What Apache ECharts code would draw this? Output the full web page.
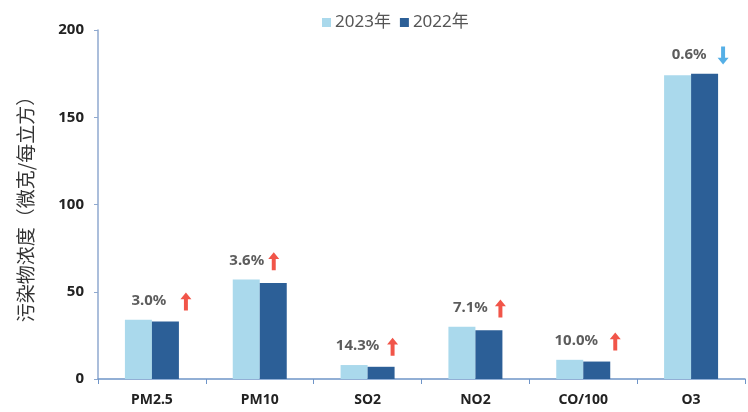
<!DOCTYPE html>
<html>
<head>
<meta charset="utf-8">
<script src="https://cdn.jsdelivr.net/npm/echarts@6/dist/echarts.min.js"></script>
<style>
  html, body {margin: 0; padding: 0; background: #fff;}
  #chart {width: 748px; height: 412px;}
</style>
</head>
<body>
<div id="chart"></div>
<script>
const categories = ['PM2.5', 'PM10', 'SO2', 'NO2', 'CO/100', 'O3']
const values2023 = [34, 57, 8, 30, 11, 174]
const values2022 = [33, 55, 7, 28, 10, 175]
const changeText = ['3.0%', '3.6%', '14.3%', '7.1%', '10.0%', '0.6%']
const changeUp = [true, true, true, true, true, false]
const yTicks = [0, 50, 100, 150, 200]

// where the percent text / arrow sit relative to the category centre (px)
const textShift = [-3, -13, -10, -5, -7, -2]
const arrowShift = [34, 14, 25, 25, 32, 32]
const labelLift = 11

const arrowUp = 'path://M5,0 L10,6 L6.8,6 L6.8,16 L3.2,16 L3.2,6 L0,6 Z'
const arrowDown = 'path://M3.2,0 L6.8,0 L6.8,10 L10,10 L5,16 L0,10 L3.2,10 Z'

const labelY = categories.map((c, i) => Math.max(values2023[i], values2022[i]) + labelLift)

const chart = echarts.init(document.getElementById('chart'))
chart.setOption({
    animation: false,
    textStyle: {fontFamily: '"Noto Sans", "Noto Sans CJK SC", sans-serif'},
    legend: {
        top: 9,
        left: 317,
        itemWidth: 9,
        itemHeight: 9,
        itemGap: 9,
        icon: 'rect',
        data: ['2023年', '2022年'],
        textStyle: {color: '#555', fontSize: 17, padding: [0, 0, 0, -1]}
    },
    grid: {left: 98, right: 3, top: 30, bottom: 33},
    xAxis: {
        type: 'category',
        data: categories,
        axisLine: {lineStyle: {color: '#6f95c8', width: 1.5}},
        axisTick: {show: true, length: 5, lineStyle: {color: '#6f95c8'}},
        axisLabel: {color: '#222', fontSize: 14, fontWeight: 'bold', margin: 14}
    },
    yAxis: {
        type: 'value',
        min: yTicks[0],
        max: yTicks[yTicks.length - 1],
        interval: 50,
        name: '污染物浓度（微克/每立方）',
        nameLocation: 'middle',
        nameGap: 63,
        nameRotate: 90,
        nameTextStyle: {color: '#333', fontSize: 19, fontFamily: '"Noto Sans CJK SC", sans-serif'},
        splitLine: {show: false},
        axisLine: {show: true, lineStyle: {color: '#8fa9cf', width: 1.5}},
        axisTick: {show: true, length: 4, lineStyle: {color: '#8fa9cf'}},
        axisLabel: {color: '#222', fontSize: 15, fontWeight: 'bold', margin: 14}
    },
    series: [
        {
            name: '2023年',
            type: 'bar',
            data: values2023,
            barGap: '0%',
            barWidth: 27,
            itemStyle: {color: '#aad9ec'}
        },
        {
            name: '2022年',
            type: 'bar',
            data: values2022,
            barWidth: 27,
            itemStyle: {color: '#2c5f97'}
        },
        {
            type: 'scatter',
            symbolSize: 0,
            silent: true,
            data: categories.map((c, i) => ({
                value: [c, labelY[i]],
                label: {offset: [textShift[i], 0]}
            })),
            label: {
                show: true,
                position: 'inside',
                formatter: p => changeText[p.dataIndex],
                color: '#333',
                fontSize: 15,
                fontWeight: 'bold'
            }
        },
        {
            type: 'scatter',
            silent: true,
            data: categories.map((c, i) => ({
                value: [c, labelY[i]],
                symbol: changeUp[i] ? arrowUp : arrowDown,
                symbolOffset: [arrowShift[i], 1],
                itemStyle: {color: changeUp[i] ? '#ee2a1b' : '#2b9be0'}
            })),
            symbolSize: [11, 18]
        }
    ]
})
</script>
</body>
</html>
